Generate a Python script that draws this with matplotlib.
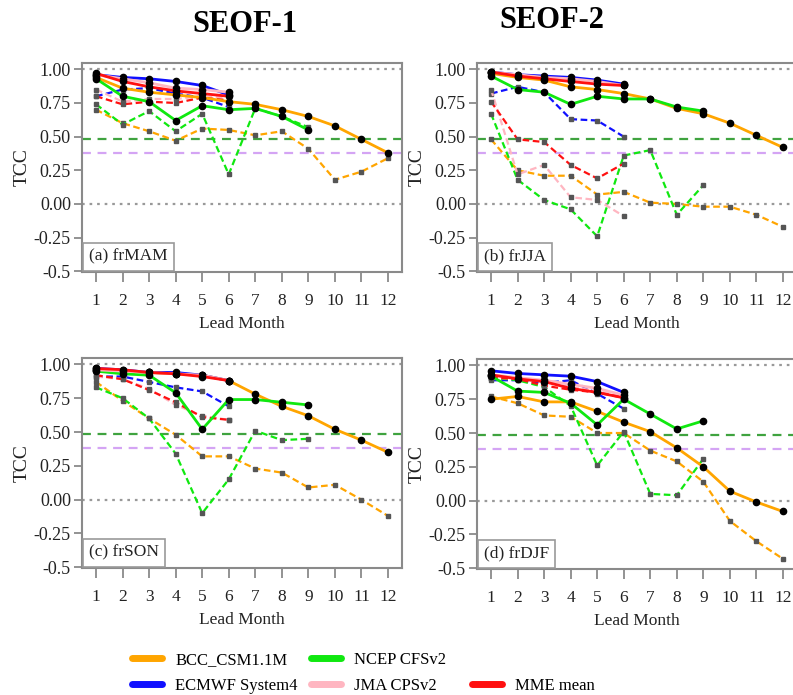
import matplotlib
matplotlib.use("Agg")
import matplotlib.pyplot as plt
from matplotlib.lines import Line2D

plt.rcParams['font.family'] = ['Liberation Serif', 'DejaVu Serif']

LEADS = list(range(1, 13))
YTICKS = [1.00, 0.75, 0.50, 0.25, 0.00, -0.25, -0.5]
YTICK_LABELS = ["1.00", "0.75", "0.50", "0.25", "0.00", "-0.25", "-0.5"]
MODELS = ["BCC_CSM1.1M", "ECMWF System4", "NCEP CFSv2", "JMA CPSv2", "MME mean"]
COLORS = ["#FFA500", "#1010FF", "#10E810", "#FFB6C1", "#FF1010"]
PANEL_LABELS = ["(a) frMAM", "(b) frJJA", "(c) frSON", "(d) frDJF"]
COLUMN_TITLES = ["SEOF-1", "SEOF-2"]
SIG_95 = 0.485
SIG_90 = 0.38

# (a) frMAM  -- solid / dashed curves
MAM_BCC = [0.94, 0.86, 0.83, 0.81, 0.79, 0.76, 0.74, 0.70, 0.65, 0.58, 0.48, 0.38]
MAM_BCC_D = [0.70, 0.60, 0.54, 0.47, 0.56, 0.55, 0.51, 0.54, 0.41, 0.18, 0.24, 0.34]
MAM_ECMWF = [0.96, 0.94, 0.93, 0.91, 0.88, 0.81]
MAM_ECMWF_D = [0.80, 0.85, 0.86, 0.82, 0.79, 0.72]
MAM_NCEP = [0.93, 0.80, 0.76, 0.62, 0.73, 0.70, 0.71, 0.65, 0.55]
MAM_NCEP_D = [0.74, 0.59, 0.69, 0.54, 0.67, 0.22, 0.71, 0.65, 0.57]
MAM_JMA = [0.96, 0.93, 0.90, 0.86, 0.85, 0.83]
MAM_JMA_D = [0.85, 0.76, 0.78, 0.78, 0.80, 0.79]
MAM_MME = [0.97, 0.91, 0.87, 0.84, 0.82, 0.80]
MAM_MME_D = [0.80, 0.74, 0.76, 0.75, 0.79, 0.77]

# (b) frJJA
JJA_BCC = [0.97, 0.94, 0.92, 0.87, 0.85, 0.82, 0.78, 0.71, 0.67, 0.60, 0.51, 0.42]
JJA_BCC_D = [0.48, 0.25, 0.21, 0.21, 0.07, 0.09, 0.01, 0.00, -0.02, -0.02, -0.08, -0.17]
JJA_ECMWF = [0.98, 0.96, 0.95, 0.94, 0.92, 0.89]
JJA_ECMWF_D = [0.82, 0.87, 0.83, 0.63, 0.62, 0.50]
JJA_NCEP = [0.95, 0.85, 0.83, 0.74, 0.80, 0.78, 0.78, 0.72, 0.69]
JJA_NCEP_D = [0.67, 0.18, 0.03, -0.04, -0.24, 0.36, 0.40, -0.08, 0.14]
JJA_JMA = [0.98, 0.96, 0.94, 0.93, 0.91, 0.88]
JJA_JMA_D = [0.85, 0.22, 0.29, 0.05, 0.03, -0.09]
JJA_MME = [0.98, 0.95, 0.93, 0.91, 0.89, 0.88]
JJA_MME_D = [0.76, 0.48, 0.46, 0.29, 0.19, 0.30]

# (c) frSON
SON_BCC = [0.96, 0.95, 0.94, 0.93, 0.92, 0.88, 0.78, 0.69, 0.62, 0.52, 0.44, 0.35]
SON_BCC_D = [0.87, 0.73, 0.60, 0.48, 0.32, 0.32, 0.23, 0.20, 0.09, 0.11, 0.00, -0.12]
SON_ECMWF = [0.97, 0.96, 0.94, 0.94, 0.92, 0.88]
SON_ECMWF_D = [0.91, 0.91, 0.87, 0.83, 0.80, 0.69]
SON_NCEP = [0.95, 0.93, 0.92, 0.79, 0.52, 0.74, 0.74, 0.72, 0.70]
SON_NCEP_D = [0.83, 0.75, 0.60, 0.34, -0.10, 0.15, 0.51, 0.44, 0.45]
SON_JMA = [0.96, 0.95, 0.94, 0.93, 0.92, 0.88]
SON_JMA_D = [0.91, 0.89, 0.82, 0.70, 0.62, 0.59]
SON_MME = [0.97, 0.96, 0.94, 0.93, 0.91, 0.88]
SON_MME_D = [0.92, 0.89, 0.81, 0.72, 0.61, 0.59]

# (d) frDJF
DJF_BCC = [0.75, 0.77, 0.73, 0.73, 0.66, 0.58, 0.51, 0.39, 0.25, 0.07, -0.01, -0.08]
DJF_BCC_D = [0.77, 0.72, 0.63, 0.62, 0.50, 0.50, 0.37, 0.29, 0.14, -0.15, -0.30, -0.43]
DJF_ECMWF = [0.96, 0.94, 0.93, 0.92, 0.88, 0.80]
DJF_ECMWF_D = [0.89, 0.89, 0.87, 0.89, 0.79, 0.68]
DJF_NCEP = [0.92, 0.81, 0.80, 0.72, 0.56, 0.75, 0.64, 0.53, 0.59]
DJF_NCEP_D = [0.91, 0.89, 0.84, 0.70, 0.26, 0.51, 0.05, 0.04, 0.31]
DJF_JMA = [0.93, 0.91, 0.89, 0.86, 0.83, 0.78]
DJF_JMA_D = [0.91, 0.90, 0.88, 0.84, 0.81, 0.77]
DJF_MME = [0.93, 0.90, 0.88, 0.83, 0.80, 0.76]
DJF_MME_D = [0.91, 0.90, 0.85, 0.82, 0.80, 0.76]

PANELS = [
    ([MAM_BCC, MAM_ECMWF, MAM_NCEP, MAM_JMA, MAM_MME],
     [MAM_BCC_D, MAM_ECMWF_D, MAM_NCEP_D, MAM_JMA_D, MAM_MME_D]),
    ([JJA_BCC, JJA_ECMWF, JJA_NCEP, JJA_JMA, JJA_MME],
     [JJA_BCC_D, JJA_ECMWF_D, JJA_NCEP_D, JJA_JMA_D, JJA_MME_D]),
    ([SON_BCC, SON_ECMWF, SON_NCEP, SON_JMA, SON_MME],
     [SON_BCC_D, SON_ECMWF_D, SON_NCEP_D, SON_JMA_D, SON_MME_D]),
    ([DJF_BCC, DJF_ECMWF, DJF_NCEP, DJF_JMA, DJF_MME],
     [DJF_BCC_D, DJF_ECMWF_D, DJF_NCEP_D, DJF_JMA_D, DJF_MME_D]),
]

W, H = 793, 695
fig = plt.figure(figsize=(W / 100, H / 100), dpi=100)

# axes boxes in pixels: left, right, top, bottom
BOXES = [(82, 402, 63, 272), (477, 797, 63, 272),
         (82, 402, 358, 568), (477, 797, 359, 569)]

FRAME = "#8a8a8a"

for k, ((l, r, t, b), (solid, dashed), label) in enumerate(zip(BOXES, PANELS, PANEL_LABELS)):
    ax = fig.add_axes([l / W, 1 - b / H, (r - l) / W, (b - t) / H])
    ax.set_xlim(0.47, 12.53)
    ax.set_ylim(-0.505, 1.047)

    ax.axhline(1.0, color="#999999", ls=(0, (1.2, 2.2)), lw=1.6, zorder=1)
    ax.axhline(0.0, color="#999999", ls=(0, (1.2, 2.2)), lw=1.6, zorder=1)
    ax.axhline(SIG_95, color="#3fa33f", ls=(0, (4, 3)), lw=1.6, zorder=1)
    ax.axhline(SIG_90, color="#d4a4f4", ls=(0, (4, 3)), lw=1.6, zorder=1)

    for vals, col in zip(dashed, COLORS):
        ax.plot(LEADS[:len(vals)], vals, color=col, lw=1.6, ls=(0, (3, 1.6)),
                marker="s", ms=2.6, mfc="#555555", mec="#555555", zorder=2)
    for vals, col in zip(solid, COLORS):
        ax.plot(LEADS[:len(vals)], vals, color=col, lw=2.0, ls="-",
                marker="o", ms=4.5, mfc="black", mec="black", zorder=3)

    ax.set_xticks(LEADS)
    ax.set_yticks(YTICKS)
    ax.set_yticklabels(YTICK_LABELS)
    ax.tick_params(axis="both", colors=FRAME, labelcolor="#222222",
                   labelsize=12.5, length=6, width=1.3)
    ax.tick_params(axis="x", pad=8, length=7)
    ax.tick_params(axis="y", pad=2, labelsize=13)
    for sp in ax.spines.values():
        sp.set_color(FRAME)
        sp.set_linewidth(1.5)

    ax.set_xlabel("Lead Month", fontsize=12.5, color="#222222", labelpad=5)
    ax.set_ylabel("TCC", fontsize=14, color="#222222", labelpad=2)

    ax.text(0.022, 0.035, label, transform=ax.transAxes, fontsize=12.5,
            color="#222222", ha="left", va="bottom",
            bbox=dict(boxstyle="square,pad=0.35", fc="white", ec="#999999", lw=1.2))

fig.text(245 / W, 1 - 24 / H, COLUMN_TITLES[0], fontsize=22, fontweight="bold",
         ha="center", va="center")
fig.text(552 / W, 1 - 20 / H, COLUMN_TITLES[1], fontsize=22, fontweight="bold",
         ha="center", va="center")

handles = [Line2D([], [], color=c, lw=5, solid_capstyle="round") for c in COLORS]
legend_cols = [([0, 1], 132, 673), ([2, 3], 311, 673), ([4], 472, 686)]
for idx, x0, yc in legend_cols:
    fig.legend([handles[i] for i in idx], [MODELS[i] for i in idx],
               loc="center left", bbox_to_anchor=(x0 / W, 1 - yc / H),
               frameon=False, fontsize=12, handlelength=1.8, handletextpad=0.8,
               labelspacing=0.6, borderpad=0, borderaxespad=0)

fig.savefig("out.png", dpi=100)
